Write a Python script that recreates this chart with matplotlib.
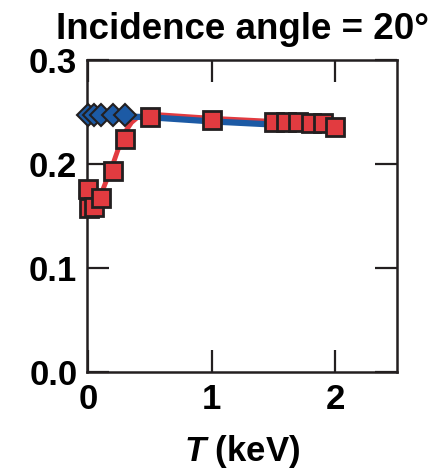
import numpy as np
import matplotlib
matplotlib.use('Agg')
import matplotlib.pyplot as plt

plt.rcParams['font.family'] = ['Liberation Sans', 'DejaVu Sans']
plt.rcParams['font.weight'] = 'bold'
plt.rcParams['mathtext.fontset'] = 'custom'
plt.rcParams['mathtext.it'] = 'Liberation Sans:italic:bold'
plt.rcParams['mathtext.rm'] = 'Liberation Sans:bold'

# red squares (measured)
red_T = [0.0, 0.01, 0.05, 0.1, 0.2, 0.3, 0.5, 1.0, 1.5, 1.6, 1.7, 1.8, 1.9, 2.0]
red_val = [0.176, 0.158, 0.159, 0.167, 0.193, 0.224, 0.245, 0.242, 0.240, 0.240, 0.240, 0.239, 0.239, 0.236]

# red fit curve
fit_T = [0.05, 0.1, 0.15, 0.2, 0.25, 0.3, 0.35, 0.4, 0.45, 0.5, 0.75, 1.0, 1.5, 2.0]
fit_val = [0.155, 0.170, 0.185, 0.200, 0.217, 0.231, 0.240, 0.245, 0.247, 0.248, 0.246, 0.244, 0.241, 0.238]

# blue diamonds and line
blue_T = [0.0, 0.05, 0.1, 0.2, 0.3]
blue_val = [0.247, 0.247, 0.247, 0.247, 0.247]
bline_T = [0.0, 0.5, 1.0, 1.5, 2.0]
bline_val = [0.247, 0.245, 0.241, 0.238, 0.235]

red = '#e23b40'
blue = '#1c5aa5'
edge = '#231f20'

fig = plt.figure(figsize=(4.34, 4.73), dpi=100)
ax = fig.add_axes([0.2005, 0.2135, 0.7145, 0.6595])

ax.plot(fit_T, fit_val, color=red, lw=3.5, zorder=2)
ax.plot(bline_T, bline_val, color=blue, lw=4.5, zorder=3)
ax.plot(blue_T, blue_val, 'D', color=blue, mec=edge, mew=1.5, ms=11, zorder=4, clip_on=False)
ax.plot(red_T, red_val, 's', color=red, mec=edge, mew=2, ms=12.5, zorder=5, clip_on=False)

ax.set_xlim(-0.01, 2.5)
ax.set_ylim(0, 0.3)
ax.set_xticks([0, 1, 2])
ax.set_yticks([0.0, 0.1, 0.2, 0.3])
ax.set_yticklabels(['0.0', '0.1', '0.2', '0.3'])
ax.tick_params(direction='in', length=16, width=1.6, color=edge, labelsize=25,
               top=True, right=True, pad=7)
ax.tick_params(axis='x', pad=8)
for s in ax.spines.values():
    s.set_linewidth(1.8)
    s.set_color(edge)

ax.set_title('Incidence angle = 20°', fontsize=26.5, fontweight='bold', pad=15)
ax.set_xlabel(r'$\mathit{T}$ (keV)', fontsize=25, fontweight='bold', labelpad=12)

plt.savefig('out.png', dpi=100)
